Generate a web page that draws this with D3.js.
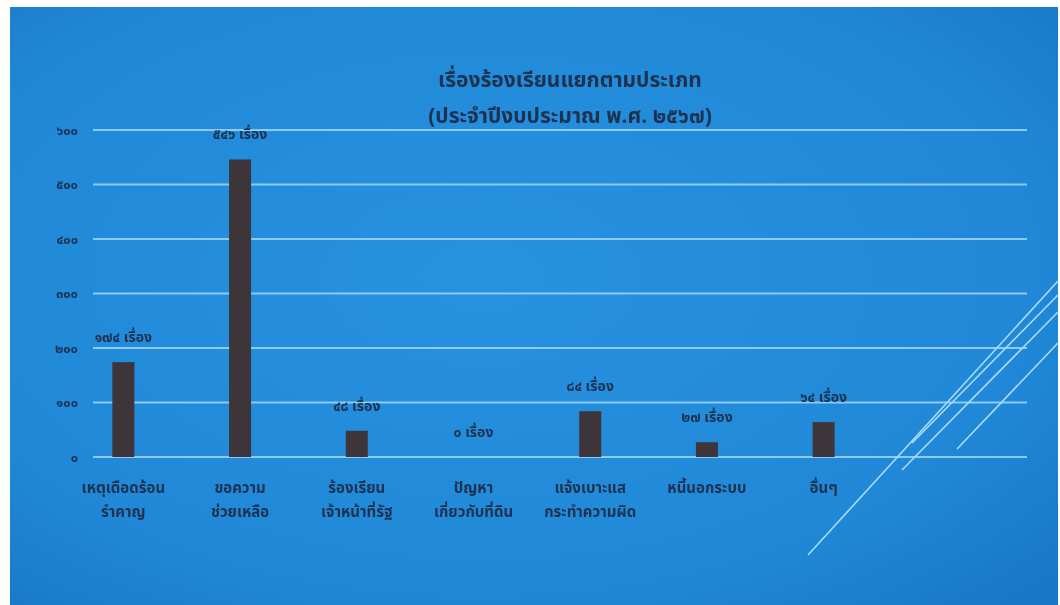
<!DOCTYPE html>
<html><head><meta charset="utf-8">
<script src="https://cdn.jsdelivr.net/npm/d3@7"></script>
<style>html,body{margin:0;padding:0;background:#fff;}svg{display:block;}</style>
</head><body>
<svg id="c" width="1060" height="605"></svg>
<script>
const categories = ["เหตุเดือดร้อนรำคาญ","ขอความช่วยเหลือ","ร้องเรียนเจ้าหน้าที่รัฐ","ปัญหาเกี่ยวกับที่ดิน","แจ้งเบาะแสกระทำความผิด","หนี้นอกระบบ","อื่นๆ"];
const categoryLines = [["เหตุเดือดร้อน","รำคาญ"],["ขอความ","ช่วยเหลือ"],["ร้องเรียน","เจ้าหน้าที่รัฐ"],["ปัญหา","เกี่ยวกับที่ดิน"],["แจ้งเบาะแส","กระทำความผิด"],["หนี้นอกระบบ"],["อื่นๆ"]];
const values = [174, 546, 48, 0, 84, 27, 64];
const valueLabels = ["๑๗๔ เรื่อง","๕๔๖ เรื่อง","๔๘ เรื่อง","๐ เรื่อง","๘๔ เรื่อง","๒๗ เรื่อง","๖๔ เรื่อง"];
const yTicks = [0,100,200,300,400,500,600];
const yTickLabels = ["๐","๑๐๐","๒๐๐","๓๐๐","๔๐๐","๕๐๐","๖๐๐"];
const titleLines = ["เรื่องร้องเรียนแยกตามประเภท","(ประจำปีงบประมาณ พ.ศ. ๒๕๖๗)"];

const svg = d3.select("#c");
const defs = svg.append("defs");
const rg = defs.append("radialGradient").attr("id","bg").attr("cx","45%").attr("cy","45%").attr("r","75%");
rg.append("stop").attr("offset","0%").attr("stop-color","#2792e0");
rg.append("stop").attr("offset","70%").attr("stop-color","#2088d7");
rg.append("stop").attr("offset","100%").attr("stop-color","#1877c8");
const blur = defs.append("filter").attr("id","soft");
blur.append("feGaussianBlur").attr("stdDeviation","0.35");

svg.append("rect").attr("x",10).attr("y",7).attr("width",1048).attr("height",598).attr("fill","url(#bg)");

const font = "'Noto Sans Thai','Noto Sans','Loma','Garuda','Tlwg Typo','DejaVu Sans',sans-serif";
const ink = "#1d3050";

const plotL = 93, plotR = 1027;
const x = d3.scaleBand().domain(categories).range([65, 882]).padding(0);
const y = d3.scaleLinear().domain([0,600]).range([457,130]);

// gridlines
svg.append("g").selectAll("line").data(yTicks).join("line")
  .attr("x1",plotL).attr("x2",plotR)
  .attr("y1",d=>y(d)).attr("y2",d=>y(d))
  .attr("stroke","#9ad2f5").attr("stroke-width",2).attr("opacity",0.9);

// y axis labels
const yAxis = d3.axisLeft(y).tickValues(yTicks).tickSize(0).tickPadding(0)
  .tickFormat((d,i)=>yTickLabels[i]);
const ya = svg.append("g").attr("transform","translate(78,0)").call(yAxis);
ya.select(".domain").remove();
ya.selectAll("text").attr("font-family",font).attr("font-size",13).attr("font-weight","bold").attr("fill",ink).attr("filter","url(#soft)");

// bars
const bw = 22;
svg.append("g").selectAll("rect").data(values).join("rect")
  .attr("x",(d,i)=>x(categories[i]) + x.bandwidth()/2 - bw/2)
  .attr("width",bw)
  .attr("y",d=>y(d))
  .attr("height",d=>y(0)-y(d))
  .attr("fill","#3d3539");

// value labels
svg.append("g").selectAll("text").data(values).join("text")
  .attr("x",(d,i)=>x(categories[i]) + x.bandwidth()/2)
  .attr("y",d=>y(d)-20)
  .attr("text-anchor","middle")
  .attr("font-family",font).attr("font-size",14).attr("font-weight","bold").attr("fill",ink)
  .attr("filter","url(#soft)")
  .text((d,i)=>valueLabels[i]);

// category labels
const cg = svg.append("g");
categoryLines.forEach((lines,i)=>{
  const t = cg.append("text")
    .attr("x",x(categories[i]) + x.bandwidth()/2)
    .attr("y",493)
    .attr("text-anchor","middle")
    .attr("font-family",font).attr("font-size",15).attr("font-weight","bold").attr("fill",ink)
    .attr("filter","url(#soft)");
  lines.forEach((ln,j)=>{
    t.append("tspan").attr("x",x(categories[i]) + x.bandwidth()/2).attr("dy",j===0?0:24).text(ln);
  });
});

// title
svg.append("g").selectAll("text").data(titleLines).join("text")
  .attr("x",570).attr("y",(d,i)=>87+i*36)
  .attr("text-anchor","middle")
  .attr("font-family",font).attr("font-size",21).attr("font-weight","bold").attr("fill",ink)
  .attr("filter","url(#soft)")
  .text(d=>d);

// decorative diagonal lines
const deco = [[808,555,1058,281],[912,443,1058,295],[902,470,1058,312],[957,449,1058,343]];
svg.append("g").selectAll("line").data(deco).join("line")
  .attr("x1",d=>d[0]).attr("y1",d=>d[1]).attr("x2",d=>d[2]).attr("y2",d=>d[3])
  .attr("stroke","#a8dcfa").attr("stroke-width",1.6);
</script>
</body></html>
